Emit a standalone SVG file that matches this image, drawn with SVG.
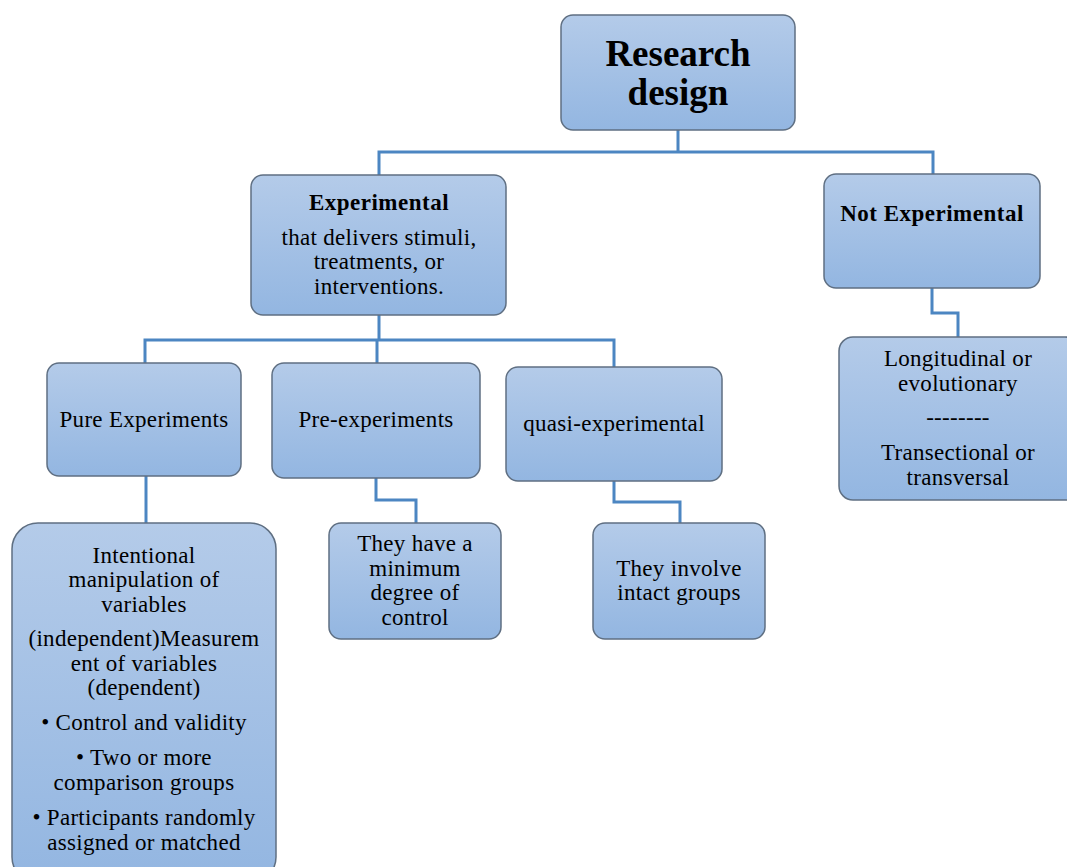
<svg xmlns="http://www.w3.org/2000/svg" width="1067" height="867" viewBox="0 0 1067 867">
<defs>
<linearGradient id="g" x1="0" y1="0" x2="0" y2="1">
<stop offset="0" stop-color="#b4cbe9"/>
<stop offset="1" stop-color="#93b6e1"/>
</linearGradient>
<style>
.box{fill:url(#g);stroke:#5f6f82;stroke-width:1.5}
.t{font-family:"Liberation Serif","Times New Roman",serif;font-size:23px;letter-spacing:0.3px;fill:#000;text-anchor:middle}
.b{font-weight:bold;font-size:23px;letter-spacing:0.5px}
.h{font-weight:bold;font-size:37px;letter-spacing:0}
.c{fill:none;stroke:#4c86c2;stroke-width:3}
</style>
</defs>
<rect width="1067" height="867" fill="#fff"/>
<g id="connectors">
<path class="c" d="M678 130V152M379 175V152H933V174"/>
<path class="c" d="M379 315V340M145 363V340H614V367M377 340V363"/>
<path class="c" d="M146 476V523"/>
<path class="c" d="M376 478V500H416V523"/>
<path class="c" d="M614 481V502H680V523"/>
<path class="c" d="M932 288V313H958V337"/>
</g>
<g id="research-design">
<rect class="box" x="561" y="15" width="234" height="115" rx="12"/>
<text class="t h" x="678" y="66">Research</text>
<text class="t h" x="678" y="105">design</text>
</g>
<g id="experimental">
<rect class="box" x="251" y="175" width="255" height="140" rx="12"/>
<text class="t b" x="379" y="210">Experimental</text>
<text class="t" x="379" y="245">that delivers stimuli,</text>
<text class="t" x="379" y="269">treatments, or</text>
<text class="t" x="379" y="294">interventions.</text>
</g>
<g id="not-experimental">
<rect class="box" x="824" y="174" width="216" height="114" rx="12"/>
<text class="t b" x="932" y="221">Not Experimental</text>
</g>
<g id="pure-experiments">
<rect class="box" x="47" y="363" width="194" height="113" rx="12"/>
<text class="t" x="144" y="427">Pure Experiments</text>
</g>
<g id="pre-experiments">
<rect class="box" x="272" y="363" width="208" height="115" rx="12"/>
<text class="t" x="376" y="427">Pre-experiments</text>
</g>
<g id="quasi-experimental">
<rect class="box" x="506" y="367" width="216" height="114" rx="12"/>
<text class="t" x="614" y="431">quasi-experimental</text>
</g>
<g id="pure-details">
<rect class="box" x="12" y="523" width="264" height="360" rx="26"/>
<text class="t" x="144" y="563">Intentional</text>
<text class="t" x="144" y="587">manipulation of</text>
<text class="t" x="144" y="612">variables</text>
<text class="t" x="144" y="646">(independent)Measurem</text>
<text class="t" x="144" y="671">ent of variables</text>
<text class="t" x="144" y="695">(dependent)</text>
<text class="t" x="144" y="730">• Control and validity</text>
<text class="t" x="144" y="765">• Two or more</text>
<text class="t" x="144" y="790">comparison groups</text>
<text class="t" x="144" y="825">• Participants randomly</text>
<text class="t" x="144" y="850">assigned or matched</text>
</g>
<g id="pre-details">
<rect class="box" x="329" y="523" width="172" height="116" rx="12"/>
<text class="t" x="415" y="551">They have a</text>
<text class="t" x="415" y="576">minimum</text>
<text class="t" x="415" y="600">degree of</text>
<text class="t" x="415" y="625">control</text>
</g>
<g id="quasi-details">
<rect class="box" x="593" y="523" width="172" height="116" rx="12"/>
<text class="t" x="679" y="576">They involve</text>
<text class="t" x="679" y="600">intact groups</text>
</g>
<g id="not-experimental-details">
<rect class="box" x="839" y="337" width="240" height="163" rx="14"/>
<text class="t" x="958" y="366">Longitudinal or</text>
<text class="t" x="958" y="391">evolutionary</text>
<text class="t" x="958" y="425">--------</text>
<text class="t" x="958" y="460">Transectional or</text>
<text class="t" x="958" y="485">transversal</text>
</g>
</svg>
